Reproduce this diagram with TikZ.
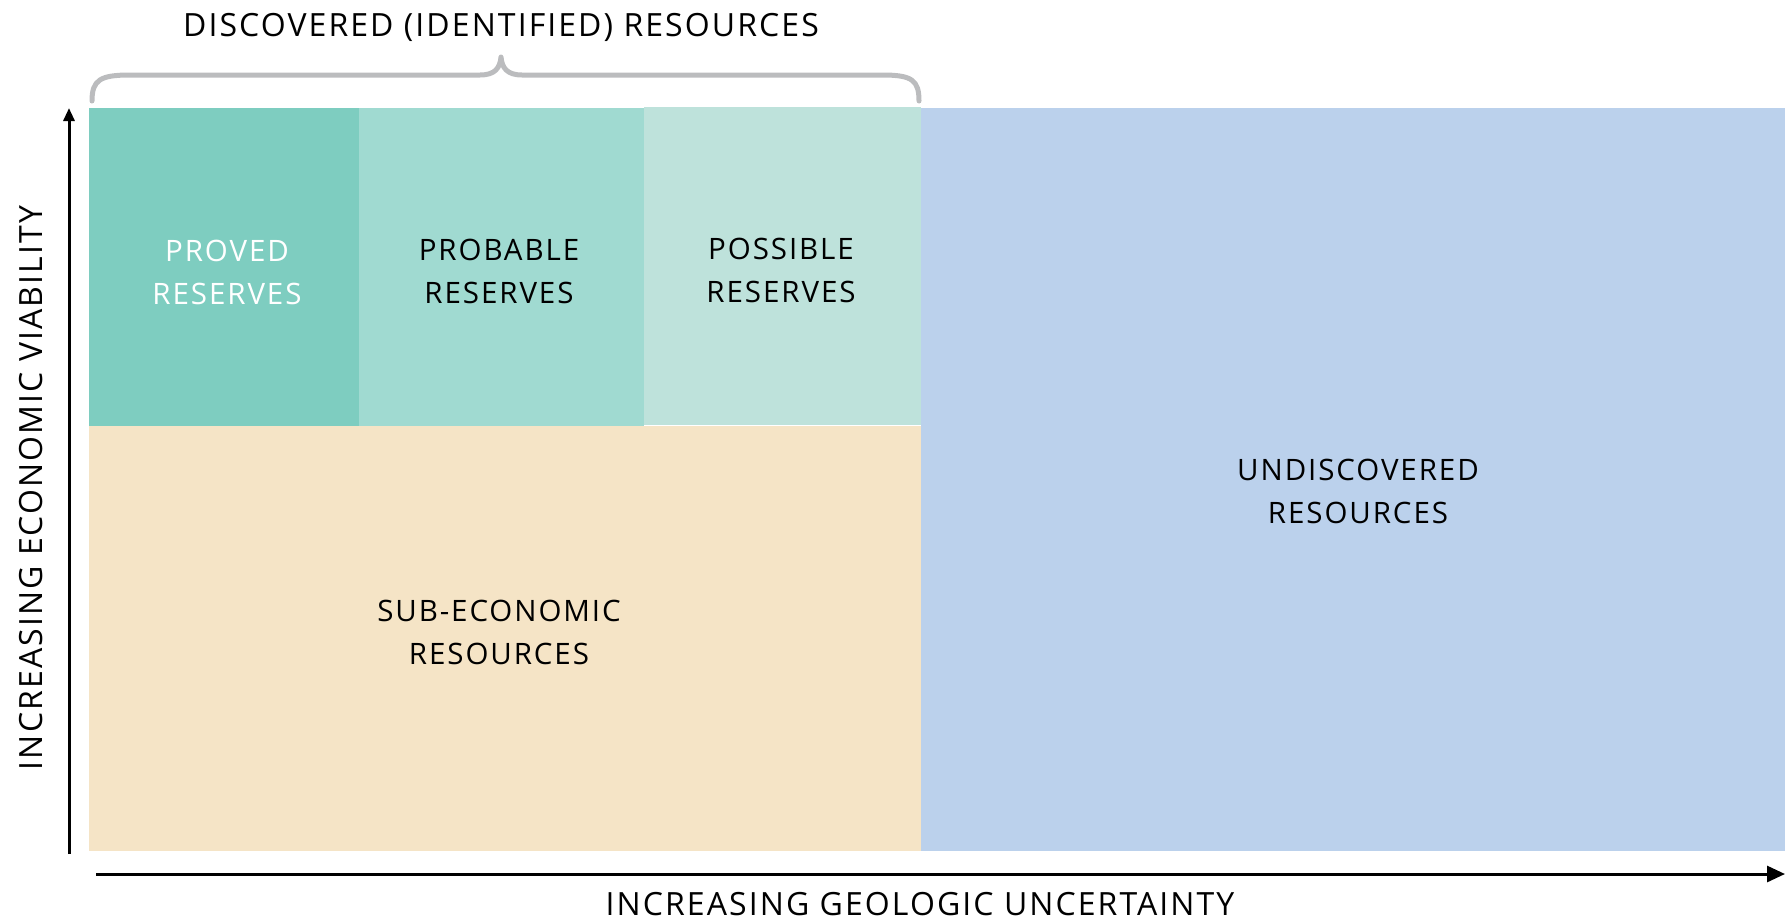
\documentclass[tikz,border=0pt]{standalone}
\usepackage{fontspec}
\setmainfont{Open Sans}[LetterSpace=6.5]
\usetikzlibrary{arrows.meta}
\definecolor{provedc}{HTML}{7ECDC0}
\definecolor{probablec}{HTML}{A0DAD1}
\definecolor{possiblec}{HTML}{BEE2DB}
\definecolor{subeconc}{HTML}{F5E4C6}
\definecolor{undiscc}{HTML}{BBD1EC}
\definecolor{bracec}{HTML}{BBBCBE}
\tikzset{
  region/.style={anchor=north west, inner sep=0pt, outer sep=0pt},
  regiontext/.style={inner sep=0pt, align=center, font=\fontsize{29.5}{43}\selectfont},
  axislabel/.style={inner sep=0pt, font=\fontsize{32}{38}\selectfont},
  axis/.style={line width=3pt, black},
  bracket/.style={line width=5pt, bracec, line cap=round, line join=round},
}
\begin{document}
\begin{tikzpicture}[x=1pt,y=-1pt]
\useasboundingbox (0,0) rectangle (1785,921);
% resource classes
\node[region, fill=subeconc, minimum width=832pt, minimum height=425pt] (subecon) at (89,426) {};
\node[region, fill=undiscc, minimum width=864pt, minimum height=743pt] (undisc) at (921,108) {};
\node[region, fill=provedc, minimum width=270pt, minimum height=318pt] (proved) at (89,108) {};
\node[region, fill=probablec, minimum width=285pt, minimum height=318pt] (probable) at (359,108) {};
\node[region, fill=possiblec, minimum width=277pt, minimum height=318pt] (possible) at (644,107) {};
% class names
\node[regiontext, text=white] (provedt) at (227,272) {PROVED\\RESERVES};
\node[regiontext] (probablet) at (499,271.5) {PROBABLE\\RESERVES};
\node[regiontext] (possiblet) at (781,270) {POSSIBLE\\RESERVES};
\node[regiontext] (subecont) at (499,632.5) {SUB-ECONOMIC\\RESOURCES};
\node[regiontext] (undisct) at (1358,491) {UNDISCOVERED\\RESOURCES};
% bracket over the identified resources
\coordinate (bl) at (92,101);
\coordinate (bt) at (501,57);
\coordinate (br) at (919,101);
\draw[bracket] (bl) .. controls (92,80) and (100,75) .. (130,75) -- (480,75)
  .. controls (495,75) and (500,68) .. (bt)
  .. controls (502,68) and (507,75) .. (522,75) -- (882,75)
  .. controls (912,75) and (919,80) .. (br);
\node[axislabel] (disc) at (501,27) {DISCOVERED (IDENTIFIED) RESOURCES};
% axes
\coordinate (v0) at (69,854);
\coordinate (v1) at (69,108);
\coordinate (h0) at (96,874);
\coordinate (h1) at (1785,874);
\draw[axis, -{Triangle[length=13pt,width=11pt]}] (v0) -- (v1);
\draw[axis, -{Triangle[length=18pt,width=16pt]}] (h0) -- (h1);
\node[axislabel, rotate=90] (ylab) at (31,488) {INCREASING ECONOMIC VIABILITY};
\node[axislabel] (xlab) at (920,904) {INCREASING GEOLOGIC UNCERTAINTY};
\end{tikzpicture}
\end{document}
